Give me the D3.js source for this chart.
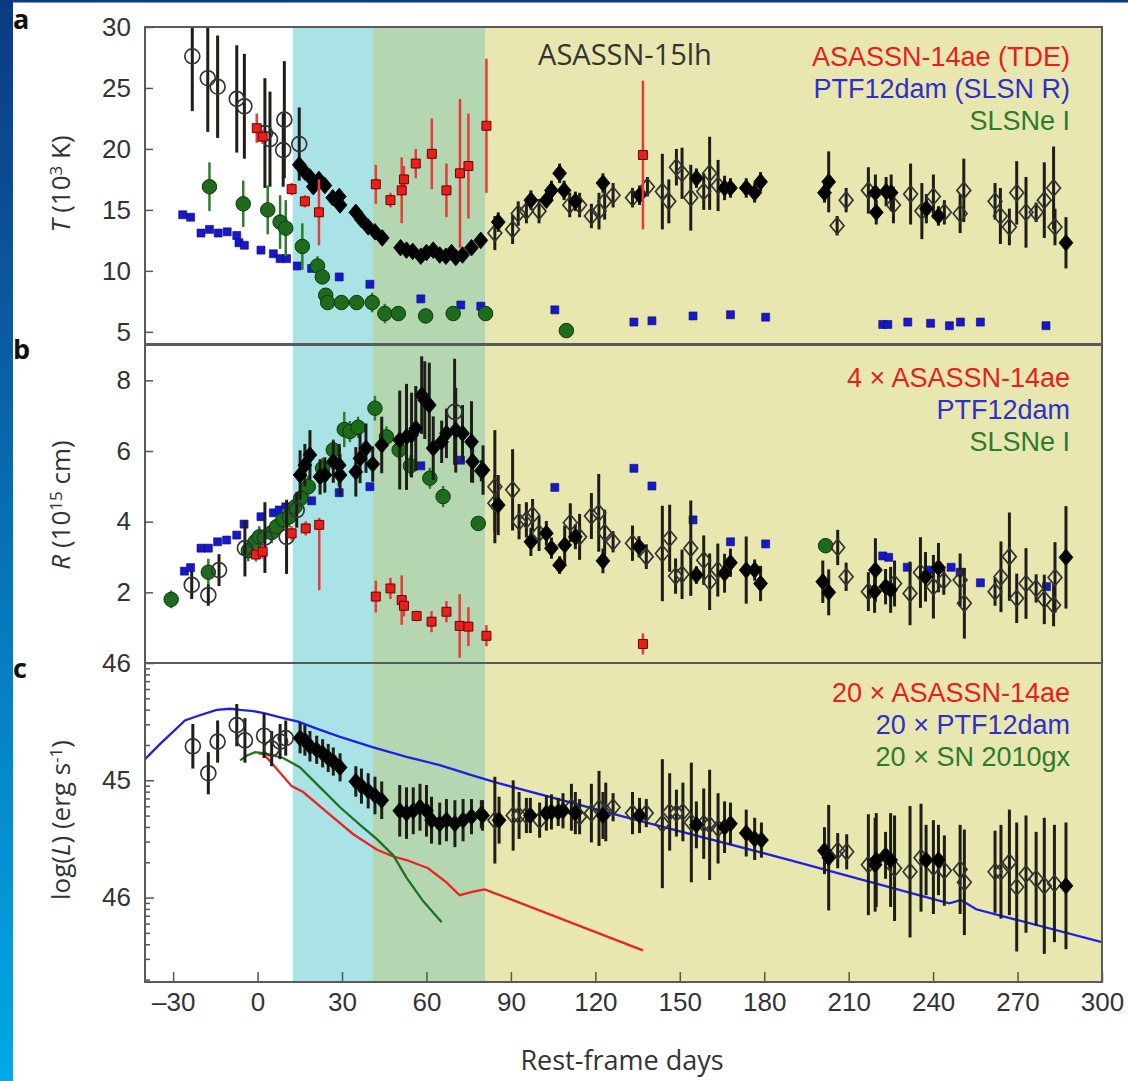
<!DOCTYPE html>
<html>
<head>
<meta charset="utf-8">
<script src="https://cdn.jsdelivr.net/npm/d3@7"></script>
<style>
  body { margin: 0; background: #fff; }
  svg { display: block; font-family: 'Open Sans', 'Noto Sans', sans-serif; }
</style>
</head>
<body>
<div id="chart"></div>
<script>
// x axis
const xTicks = [-30, 0, 30, 60, 90, 120, 150, 180, 210, 240, 270, 300]
const phaseBounds = [12.5, 41, 81, 300]

// panel a : temperature (10^3 K)  [day, value, err(, errUp)]
const tempTicks = [5, 10, 15, 20, 25, 30]
const tEarly = [[-23.2,27.6,4.5],[-17.7,25.8,4.4],[-14.2,25.1,4.2],[-7.4,24.1,4.4],[-4.7,23.5,4.3],[2.6,21.3,4.5],[4.4,20.8,3.9],[9.5,22.4,4.8],[9.1,19.9,3.0],[14.8,20.4,3.0]]
const tFilled = [[14.8,18.7,.5],[16.8,18.1,.5],[18.6,17.7,.5],[19.8,16.9,.5],[21.8,17.5,.5],[23.9,17.0,.5],[26.7,16.0,.5],[29.0,16.1,.5],[29.3,15.4,.5],[34.9,14.8,.5],[36.9,14.2,.5],[39.3,13.6,.5],[41.7,13.2,.5],[44.3,12.7,.5],[50.8,11.9,.5],[52.9,11.7,.5],[55.1,11.6,.5],[58.0,11.2,.5],[60.0,11.5,.5],[62.4,11.7,.5],[64.7,11.3,.5],[66.9,11.2,.5],[68.9,11.5,.5],[70.4,11.1,.6],[72.8,11.3,.5],[76.0,11.9,.5],[79.3,12.5,.5],
  [85.5,14.0,.8],[97.1,15.8,.8],[102.6,15.8,.6],[104.4,16.6,.8],[107.3,18.0,.8],[108.9,16.6,.8],[112.9,15.7,.8],[122.7,17.2,.8],[135.7,16.2,.8],[155.9,17.6,.8],[165.9,16.8,1.0],[168.0,16.8,.8],[173.6,16.8,.8],[176.6,16.4,.8],[178.7,17.3,.8],
  [201.4,16.4,.8],[202.9,17.3,2.5],[219.5,16.4,1.5],[219.8,14.8,1.0],[223.3,16.5,1.2],[225.1,16.4,1.5],[237.6,15.1,1.2],[241.9,14.5,.8],[287.2,12.3,2.1]]
const tOpen = [[84.3,13.1,1.4],[90.6,13.4,1.2],[92.6,14.7,1.0],[95.5,14.9,1.0],[100.0,14.9,1.0],[110.9,15.4,1.0],[114.4,15.4,1.0],[118.6,14.5,1.0],[121.3,14.9,1.5],[123.3,15.7,1.5],[126.3,16.2,1.0],[133.2,16.0,.8],[138.5,16.9,.8],[143.8,16.5,3.1],[146.1,15.7,1.8],[148.8,18.5,1.5],[150.8,18.0,2.1],[153.9,16.0,2.7],[158.5,16.5,1.5],[160.6,18.0,3.0],[163.6,17.0,2.1],
  [209.1,15.8,1.0],[205.9,13.7,.8],[217.0,16.6,1.9],[225.9,15.4,1.5],[232.0,16.3,2.5],[236.0,14.9,2.3],[240.1,16.1,1.8],[244.0,14.8,1.0],[249.6,14.7,1.6],[250.9,16.6,2.6],[262.0,15.7,1.5],[263.9,14.5,2.3],[267.1,13.6,1.5],[269.7,16.4,2.6],[273.0,14.8,2.9],[276.6,14.8,.8],[279.5,15.8,3.1],[282.8,16.8,3.4],[283.3,13.6,1.5]]
const t14ae = [[-0.3,21.7,1.2],[1.8,21.0,.6],[12.1,16.7,.5],[16.8,15.7,.5],[21.8,14.8,2.7],[42.0,17.1,1.6],[47.2,15.8,.6],[51.2,16.6,2.7],[52.0,17.5,1.1],[56.2,18.8,1.2],[61.9,19.6,2.9],[67.1,16.6,2.2],[71.9,18.0,6.1],[74.9,18.6,4.3],[81.3,21.9,5.5],[136.9,19.5,6.1]]
const tPtf = [[-26.6,14.6],[-23.8,14.4],[-20.1,13.1],[-17.1,13.4],[-14.0,13.1],[-10.8,13.2],[-7.4,12.9],[-6.6,12.3],[-4.7,12.1],[1.2,11.7],[5.6,11.4],[8.0,11.0],[10.3,11.0],[14.1,10.4],[19.2,10.2],[29.0,9.5],[39.9,8.9],[58.0,7.7],[72.2,7.2],[79.3,7.1],[105.6,6.8],[133.7,5.8],[140.1,5.9],[154.7,6.3],[168.0,6.4],[180.5,6.2],[222.1,5.6],[223.9,5.6],[231.0,5.8],[239.1,5.7],[245.8,5.5],[249.7,5.8],[256.8,5.8],[280.1,5.5]]
const tSlsn = [[-17.1,16.9,2.0],[-5.1,15.5,1.9],[3.6,15.0,2.0],[8.0,14.0,2.2],[10.0,13.5,2.3],[15.9,12.0,1.9],[21.3,10.4,.8],[23.0,9.5,.5],[24.2,8.0,.3],[24.9,7.4,.3],[29.8,7.4,0],[35.2,7.4,0],[40.7,7.4,.8],[45.2,6.5,.8],[50.0,6.5,0],[59.7,6.3,0],[69.5,6.5,0],[81.0,6.5,0],[109.7,5.1,0]]

// panel b : radius (10^15 cm)
const radTicks = [2, 4, 6, 8]
const rEarly = [[-23.4,2.21,.4],[-17.5,1.92,.3],[-13.7,2.63,.45],[-4.5,3.25,.8],[2.6,3.55,1.0],[10.3,3.57,1.05],[13.9,4.33,.5],[70.0,7.11,1.5]]
const rFilled = [[15.1,5.32,.7],[16.8,5.60,.6],[18.6,5.89,.7],[22.2,5.27,.5],[23.9,5.32,.5],[26.9,5.70,.6],[29.0,5.60,.6],[29.3,5.32,.6],[34.9,5.41,.7],[36.4,5.79,.7],[38.5,6.08,.7],[40.9,5.63,.5],[44.1,6.17,.8],[50.5,6.31,1.4],[52.9,6.40,1.5],[54.7,6.45,1.2],[56.2,6.64,1.2],[58.3,7.58,1.1],[59.4,7.44,1.1],[61.0,7.30,1.2],[62.4,6.08,.9],[65.4,6.26,.6],[67.1,6.50,.7],[70.4,6.59,1.2],[72.8,6.50,.8],[76.0,6.26,1.15],[76.4,5.70,.6],[79.5,5.44,.3],
  [80.1,5.46,.7],[85.5,4.47,.85],[97.1,3.43,.4],[102.6,3.67,.35],[104.4,3.25,.3],[107.3,2.77,.25],[109.1,3.34,.55],[112.9,3.57,.35],[122.7,2.89,.35],[135.5,3.29,.3],[155.9,2.49,.25],[165.9,2.54,.55],[168.0,2.84,.4],[173.6,2.63,.95],[176.6,2.63,.3],[178.7,2.25,.5],
  [200.8,2.30,.6],[202.9,2.0,.65],[219.2,2.02,.6],[219.5,2.63,.9],[223.1,2.16,.5],[224.9,2.07,.65],[237.3,2.44,.7],[241.9,2.70,.7],[287.2,2.99,1.45]]
const rOpen = [[84.3,4.99,1.6],[84.3,4.52,.8],[90.6,4.90,1.15],[92.9,4.0,.5],[95.5,4.05,.5],[97.7,4.19,.45],[100.0,3.67,.5],[111.1,3.97,.55],[114.4,3.57,.65],[118.6,4.16,.65],[121.2,4.25,1.1],[123.3,3.69,.65],[126.3,3.43,.3],[133.2,3.39,.5],[138.1,3.01,.35],[143.8,3.10,1.35],[146.4,3.53,.95],[148.5,2.46,.5],[150.8,2.51,.7],[153.9,3.25,1.35],[158.5,2.91,.7],[160.6,2.30,.8],[163.5,2.63,.75],
  [206.1,3.27,.5],[209.1,2.44,.4],[217.0,2.02,.55],[226.3,2.25,.65],[231.8,1.97,.9],[235.5,2.56,1.0],[240.1,2.16,.9],[243.8,2.33,.4],[249.6,2.35,.75],[251.1,1.69,1.0],[262.0,2.02,.4],[264.1,2.44,1.0],[267.1,3.01,1.25],[269.7,1.83,.7],[273.0,2.25,1.0],[276.6,2.11,.4],[279.5,1.80,.7],[282.8,1.64,.6],[283.3,2.42,1.0]]
const r14ae = [[-0.6,3.07,.2],[1.8,3.15,.2],[12.1,3.67,.2],[17.1,3.81,.2],[21.9,3.91,1.85,.2],[42.0,1.88,.45],[47.2,2.11,.3],[51.2,1.78,.7],[52.0,1.62,.3],[56.5,1.33,.15],[61.8,1.17,.3],[67.1,1.45,.3],[71.8,1.05,.9],[74.9,1.03,.55],[81.3,0.77,.3],[136.9,0.54,.3]]
const rPtf = [[-26.0,2.60],[-23.8,2.70],[-20.1,3.25],[-17.5,3.25],[-14.2,3.43],[-11.0,3.48],[-7.4,3.62],[-4.8,3.93],[1.2,4.14],[5.6,4.25],[7.7,4.33],[10.0,4.42],[14.1,4.54],[19.2,4.59],[29.0,4.82],[39.9,4.99],[58.0,5.58],[72.1,5.74],[105.6,4.97],[133.7,5.51],[140.1,5.01],[154.7,4.05],[168.0,3.43],[180.5,3.37],[222.1,3.03],[224.2,2.99],[230.8,2.71],[238.7,2.63],[246.4,2.71],[249.6,2.57],[256.8,2.27],[280.3,2.16]]
const rSlsn = [[-30.7,1.80,.25],[-17.5,2.57,.38],[-3.3,3.18,.3],[-0.9,3.43,.3],[0.6,3.57,.3],[5.0,3.69,.3],[6.8,3.86,.3],[9.1,4.05,.3],[11.3,4.14,.3],[13.3,4.42,.3],[15.3,4.66,.3],[18.0,4.99,.3],[23.1,5.51,.3],[26.9,6.03,.3],[30.8,6.61,.5],[32.8,6.55,.3],[35.7,6.67,.3],[41.7,7.21,.35],[45.8,6.40,.3],[50.3,6.03,.3],[54.3,5.58,.3],[61.2,5.23,.3],[65.9,4.71,.3],[78.4,3.95,.2],[201.8,3.32,.2]]

// panel c : log luminosity (erg s^-1)
const lumTicks = [46, 45, 44]
const lumTickLabels = ['46', '45', '46']
const lEarly = [[-23.0,45.29,.19],[-17.5,45.06,.18],[-14.2,45.33,.18],[-7.4,45.47,.18],[-4.5,45.34,.19],[2.3,45.38,.19],[5.0,45.27,.15],[8.0,45.33,.15],[10.0,45.36,.15]]
const lFilled = [[15.1,45.36,.13],[16.8,45.34,.13],[18.6,45.29,.13],[21.0,45.26,.12],[23.1,45.23,.12],[25.1,45.19,.12],[26.9,45.16,.12],[29.3,45.11,.12],[34.9,44.99,.13],[36.9,44.95,.15],[39.3,44.91,.15],[41.7,44.87,.16],[44.1,44.83,.16],[50.5,44.74,.22],[52.9,44.72,.22],[55.3,44.74,.2],[57.7,44.77,.2],[60.0,44.74,.22],[61.8,44.66,.2],[64.7,44.63,.18],[67.1,44.66,.18],[70.1,44.63,.2],[73.0,44.66,.18],[76.0,44.69,.15],[79.5,44.71,.12],
  [79.9,44.70,.13],[85.8,44.66,.2],[96.9,44.70,.15],[102.6,44.72,.15],[104.4,44.73,.15],[106.8,44.73,.12],[108.5,44.74,.15],[112.9,44.72,.18],[122.7,44.70,.2],[135.7,44.70,.15],[155.9,44.62,.2],[165.9,44.60,.22],[168.0,44.63,.18],[173.6,44.55,.2],[176.6,44.50,.18],[179.0,44.49,.15],
  [201.4,44.40,.2],[202.9,44.34,.45],[219.4,44.28,.4],[219.8,44.32,.4],[223.1,44.36,.2],[224.9,44.32,.4],[237.5,44.32,.3],[241.9,44.32,.3],[287.2,44.10,.54]]
const lOpen = [[84.3,44.66,.37],[90.8,44.70,.3],[92.9,44.70,.2],[95.5,44.70,.15],[100.2,44.66,.15],[111.5,44.77,.2],[114.4,44.69,.15],[118.6,44.72,.25],[121.3,44.76,.32],[123.7,44.73,.25],[126.3,44.77,.12],[133.2,44.72,.18],[138.1,44.72,.12],[143.8,44.63,.55],[146.4,44.73,.33],[148.8,44.72,.2],[151.1,44.73,.25],[154.1,44.64,.51],[158.5,44.63,.3],[160.6,44.62,.47],[163.6,44.59,.3],
  [206.1,44.40,.15],[209.3,44.39,.15],[217.0,44.28,.43],[226.3,44.25,.45],[231.8,44.22,.56],[235.7,44.34,.46],[240.1,44.26,.4],[244.0,44.23,.3],[249.6,44.24,.38],[251.1,44.13,.45],[262.0,44.22,.35],[264.1,44.22,.4],[267.1,44.30,.45],[269.7,44.09,.55],[273.0,44.20,.5],[276.6,44.16,.4],[279.5,44.10,.58],[283.1,44.12,.5]]
const lPtf = [[-40,45.18],[-34.6,45.31],[-25.8,45.51],[-21.1,45.55],[-14.5,45.60],[-9.8,45.61],[-6.2,45.60],[-1.5,45.59],[2.6,45.57],[9.1,45.53],[14.4,45.50],[21.0,45.44],[29.3,45.37],[41.1,45.28],[52.9,45.20],[64.7,45.13],[76.6,45.04],[84.9,44.98],[130,44.69],[189.1,44.32],[241.1,43.98],[245.8,43.95],[249.9,43.98],[255.3,43.90],[300,43.62]]
const l14ae = [[0.3,45.23],[2.3,45.22],[5.6,45.13],[12.1,44.95],[16.2,44.90],[24.5,44.73],[34.0,44.54],[42.3,44.41],[48.2,44.35],[52.9,44.32],[60.6,44.25],[67.1,44.13],[71.8,44.02],[76.6,44.05],[80.7,44.07],[136.9,43.55]]
const lGx = [[-6.2,45.17],[-3.9,45.21],[-0.9,45.24],[2.6,45.23],[9.1,45.19],[15.1,45.11],[22.2,44.94],[29.3,44.77],[36.4,44.62],[42.3,44.50],[48.2,44.36],[52.9,44.17],[58.8,43.97],[65.4,43.79]]

const W = 1128, H = 1081
const left = 145, right = 1102
const phaseColors = ['#aae3e6', '#b4d7b2', '#e8e7b0']
const cRed = '#e8201c', cBlue = '#1818c8', cGreen = '#1e6b1e'

const svg = d3.select('#chart').append('svg').attr('width', W).attr('height', H)

// page border
const grad = svg.append('defs').append('linearGradient').attr('id', 'edge')
  .attr('x1', 0).attr('y1', 0).attr('x2', 0).attr('y2', 1)
grad.append('stop').attr('offset', 0).attr('stop-color', '#0c3a82')
grad.append('stop').attr('offset', 1).attr('stop-color', '#02a8e8')
svg.append('rect').attr('width', 13).attr('height', H).attr('fill', 'url(#edge)')
svg.append('rect').attr('width', W).attr('height', 2.5).attr('fill', '#0c3a82')

const x = d3.scaleLinear().domain([-40, 300]).range([left, right])

const panels = [
  { key: 'a', y: d3.scaleLinear().domain([4, 30]).range([344, 27]), top: 27, bottom: 344 },
  { key: 'b', y: d3.scaleLinear().domain([0, 9]).range([663, 345]), top: 345, bottom: 663 },
  { key: 'c', y: d3.scaleLinear().domain([43.28, 46]).range([982, 663]), top: 663, bottom: 982 }
]

const diamond = {
  draw(ctx, size) {
    const w = Math.sqrt(size) * 0.5, h = w * 1.2
    ctx.moveTo(0, -h); ctx.lineTo(w, 0); ctx.lineTo(0, h); ctx.lineTo(-w, 0); ctx.closePath()
  }
}

panels.forEach(p => {
  const defs = svg.append('defs')
  defs.append('clipPath').attr('id', 'clip' + p.key)
    .append('rect').attr('x', left).attr('y', p.top).attr('width', right - left).attr('height', p.bottom - p.top)
  p.g = svg.append('g').attr('clip-path', `url(#clip${p.key})`)
  // shaded phases
  p.g.selectAll('rect.phase').data(phaseBounds.slice(0, -1)).join('rect')
    .attr('class', 'phase')
    .attr('x', (d, i) => x(d)).attr('width', (d, i) => x(phaseBounds[i + 1]) - x(d))
    .attr('y', p.top).attr('height', p.bottom - p.top)
    .attr('fill', (d, i) => phaseColors[i])
})

function errBars(g, data, y, color, w) {
  g.append('g').selectAll('line').data(data.filter(d => d[2] > 0)).join('line')
    .attr('x1', d => x(d[0])).attr('x2', d => x(d[0]))
    .attr('y1', d => y(d[1] - d[2])).attr('y2', d => y(d[1] + (d[3] ?? d[2])))
    .attr('stroke', color).attr('stroke-width', w)
}
function symbols(g, data, y, type, size, fill, stroke, sw) {
  g.append('g').selectAll('path').data(data).join('path')
    .attr('d', d3.symbol().type(type).size(size))
    .attr('transform', d => `translate(${x(d[0])},${y(d[1])})`)
    .attr('fill', fill).attr('stroke', stroke).attr('stroke-width', sw)
}
function curve(g, data, y, color) {
  g.append('path').datum(data)
    .attr('d', d3.line().x(d => x(d[0])).y(d => y(d[1])))
    .attr('fill', 'none').attr('stroke', color).attr('stroke-width', 2.3)
}
function blackSet(p, early, filled, open) {
  errBars(p.g, early, p.y, '#1e1e16', 3)
  errBars(p.g, open, p.y, '#1e1e16', 3)
  errBars(p.g, filled, p.y, '#1e1e16', 3)
  symbols(p.g, early, p.y, d3.symbolCircle, 175, 'none', '#333', 1.7)
  symbols(p.g, open, p.y, diamond, 190, 'none', '#333', 1.7)
  symbols(p.g, filled, p.y, diamond, 190, '#000', '#111', 1)
}

// panel a
{
  const p = panels[0]
  symbols(p.g, tPtf, p.y, d3.symbolSquare, 64, cBlue, '#0a0a80', 0.6)
  errBars(p.g, tSlsn, p.y, '#2e7d2e', 2.5)
  symbols(p.g, tSlsn, p.y, d3.symbolCircle, 165, cGreen, '#0a3a0a', 1)
  blackSet(p, tEarly, tFilled, tOpen)
  errBars(p.g, t14ae, p.y, '#e83a3a', 2.5)
  symbols(p.g, t14ae, p.y, d3.symbolSquare, 80, cRed, '#6a0000', 1)
}
// panel b
{
  const p = panels[1]
  symbols(p.g, rPtf, p.y, d3.symbolSquare, 64, cBlue, '#0a0a80', 0.6)
  errBars(p.g, rSlsn, p.y, '#2e7d2e', 2.5)
  symbols(p.g, rSlsn, p.y, d3.symbolCircle, 165, cGreen, '#0a3a0a', 1)
  blackSet(p, rEarly, rFilled, rOpen)
  errBars(p.g, r14ae, p.y, '#e83a3a', 2.5)
  symbols(p.g, r14ae, p.y, d3.symbolSquare, 80, cRed, '#6a0000', 1)
}
// panel c
{
  const p = panels[2]
  curve(p.g, lPtf, p.y, '#2020e0')
  curve(p.g, l14ae, p.y, '#e82424')
  curve(p.g, lGx, p.y, '#207020')
  blackSet(p, lEarly, lFilled, lOpen)
}

// axes
const tickFont = g => g.selectAll('text').attr('font-size', 26).attr('fill', '#333')
const frame = g => g.select('.domain').remove()

svg.append('g').attr('transform', `translate(${left},0)`)
  .call(d3.axisLeft(panels[0].y).tickValues(tempTicks).tickSize(-8).tickPadding(14))
  .call(frame).call(tickFont)
svg.append('g').attr('transform', `translate(${left},0)`)
  .call(d3.axisLeft(panels[1].y).tickValues(radTicks).tickSize(-8).tickPadding(14))
  .call(frame).call(tickFont)
svg.append('g').attr('transform', `translate(${left},0)`)
  .call(d3.axisLeft(panels[2].y).tickValues(lumTicks).tickFormat((d, i) => lumTickLabels[i]).tickSize(-9).tickPadding(14))
  .call(frame).call(tickFont)

// minor log ticks on the luminosity axis
const minor = []
;[43, 44, 45].forEach(n => d3.range(2, 10).forEach(k => {
  const v = n + Math.log10(k)
  if (v > 43.28 && v < 46) minor.push(v)
}))
svg.append('g').attr('transform', `translate(${left},0)`)
  .call(d3.axisLeft(panels[2].y).tickValues(minor).tickSize(-5).tickFormat(''))
  .call(frame)

svg.append('g').attr('transform', `translate(0,${panels[2].bottom})`)
  .call(d3.axisBottom(x).tickValues(xTicks).tickSize(-10).tickPadding(11).tickFormat(d => d < 0 ? '\u2013' + (-d) : d))
  .call(frame).call(tickFont)

svg.selectAll('.tick line').attr('stroke', '#555').attr('stroke-width', 1.5)

// panel frames
panels.forEach(p => {
  svg.append('rect').attr('x', left).attr('y', p.top).attr('width', right - left).attr('height', p.bottom - p.top)
    .attr('fill', 'none').attr('stroke', '#5a5a5a').attr('stroke-width', 2)
})

// panel letters
const letterY = [29, 359, 678]
panels.forEach((p, i) => {
  svg.append('text').attr('x', 13).attr('y', letterY[i]).text(p.key)
    .attr('font-size', 27).attr('font-weight', 'bold').attr('fill', '#111')
})

// y titles
function yTitle(cy, parts) {
  const t = svg.append('text').attr('transform', `translate(70,${cy}) rotate(-90)`)
    .attr('text-anchor', 'middle').attr('font-size', 26).attr('fill', '#333')
  parts.forEach(([s, style]) => {
    const ts = t.append('tspan').text(s)
    if (style === 'i') ts.attr('font-style', 'italic')
    if (style === 'sup') ts.attr('font-size', 17).attr('baseline-shift', '45%')
  })
}
yTitle(184, [['T', 'i'], [' (10'], ['3', 'sup'], [' K)']])
yTitle(505, [['R', 'i'], [' (10'], ['15', 'sup'], [' cm)']])
yTitle(820, [['log('], ['L', 'i'], [') (erg s'], ['-1', 'sup'], [')']])

// x title
svg.append('text').attr('x', 622).attr('y', 1070).attr('text-anchor', 'middle')
  .attr('font-size', 27).attr('fill', '#333').text('Rest-frame days')

// legends (compact line metrics so stacked lines sit as tight as the original)
const legends = [
  [[66, 'ASASSN-14ae (TDE)', cRed], [98, 'PTF12dam (SLSN R)', '#3030c8'], [130, 'SLSNe I', '#2e7a2e']],
  [[387, '4 \u00d7 ASASSN-14ae', cRed], [419, 'PTF12dam', '#3030c8'], [451, 'SLSNe I', '#2e7a2e']],
  [[702, '20 \u00d7 ASASSN-14ae', cRed], [734, '20 \u00d7 PTF12dam', '#3030c8'], [766, '20 \u00d7 SN 2010gx', '#2e7a2e']]
]
legends.flat().forEach(([y, s, c]) => {
  svg.append('text').attr('x', 1070).attr('y', y).attr('text-anchor', 'end')
    .attr('font-family', "'Liberation Sans', Arial, sans-serif")
    .attr('font-size', 27).attr('fill', c).text(s)
})
svg.append('text').attr('x', 625).attr('y', 65).attr('text-anchor', 'middle')
  .attr('font-size', 29).attr('fill', '#333').text('ASASSN-15lh')
</script>
</body>
</html>
